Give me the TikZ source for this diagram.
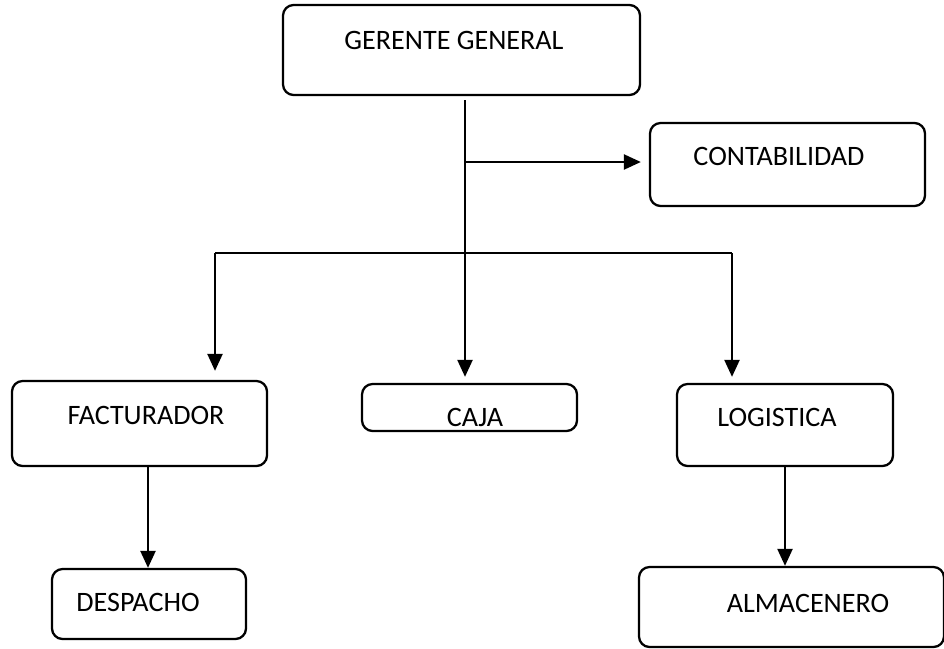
\documentclass[tikz,border=0pt]{standalone}
\usepackage{fontspec}
\setmainfont{Carlito}
\usepackage{tikz}
\usetikzlibrary{arrows.meta}

\begin{document}
\begin{tikzpicture}[x = 1cm, y = -1cm, line width = 1.3pt,
    caja/.style = {draw, rounded corners = 6pt, inner sep = 0},
    rotulo/.style = {inner sep = 0, font = \fontsize{16}{19}\selectfont},
    flecha/.style = {-{Triangle[length = 3.4mm, width = 3mm]}}]
  \useasboundingbox (0, 0) rectangle (18.88, 12.96);
  \coordinate (tronco) at (9.30, 5.06);
  \node[caja, minimum width = 7.14cm, minimum height = 1.80cm] (gerente) at (9.23, 1.00) {};
  \node[caja, minimum width = 5.50cm, minimum height = 1.66cm] (contab) at (15.75, 3.29) {};
  \node[caja, minimum width = 5.10cm, minimum height = 1.70cm] (factur) at (2.79, 8.47) {};
  \node[caja, minimum width = 4.30cm, minimum height = 0.94cm] (cajab) at (9.39, 8.15) {};
  \node[caja, minimum width = 4.32cm, minimum height = 1.64cm] (logis) at (15.70, 8.50) {};
  \node[caja, minimum width = 3.88cm, minimum height = 1.40cm] (despa) at (2.98, 12.08) {};
  \node[caja, minimum width = 6.10cm, minimum height = 1.60cm] (almac) at (15.83, 12.14) {};
  \node[rotulo] (gerente-t) at (9.08, 0.80) {GERENTE GENERAL};
  \node[rotulo] (contab-t) at (15.58, 3.12) {CONTABILIDAD};
  \node[rotulo] (factur-t) at (2.92, 8.30) {FACTURADOR};
  \node[rotulo] (cajab-t) at (9.50, 8.34) {CAJA};
  \node[rotulo] (logis-t) at (15.54, 8.34) {LOGISTICA};
  \node[rotulo] (despa-t) at (2.76, 12.04) {DESPACHO};
  \node[rotulo] (almac-t) at (16.16, 12.06) {ALMACENERO};
  \coordinate (izq) at (4.30, 5.06);
  \coordinate (der) at (14.64, 5.06);
  \coordinate (fd) at (2.96, 10);
  \draw[flecha, shorten < = .08cm, shorten > = .12cm] (gerente.south -| tronco) -- (cajab.north -| tronco);
  \draw[flecha, shorten > = .16cm] (tronco |- 0, 3.24) -- (contab.west |- 0, 3.24);
  \draw (izq) -- (der);
  \draw[flecha, shorten > = .18cm] (izq) -- (factur.north -| izq);
  \draw[flecha, shorten > = .12cm] (der) -- (logis.north -| der);
  \draw[flecha] (factur.south -| fd) -- (despa.north -| fd);
  \draw[flecha] (logis.south) -- (almac.north -| logis.south);
\end{tikzpicture}
\end{document}
